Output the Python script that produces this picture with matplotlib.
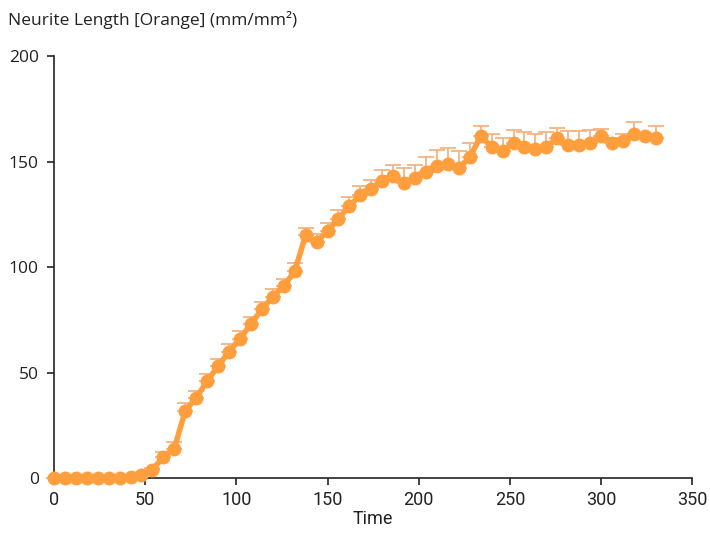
import numpy as np
import matplotlib.pyplot as plt

# time points (every 6 units)
tempo = [0, 6, 12, 18, 24, 30, 36, 42, 48, 54, 60, 66, 72, 78, 84, 90, 96, 102,
         108, 114, 120, 126, 132, 138, 144, 150, 156, 162, 168, 174, 180, 186,
         192, 198, 204, 210, 216, 222, 228, 234, 240, 246, 252, 258, 264, 270,
         276, 282, 288, 294, 300, 306, 312, 318, 324, 330]

comprimento = [0, 0, 0, 0, 0, 0, 0, 0.5, 1.5, 4, 10, 14, 32, 38, 46, 53, 60, 66,
               73, 80, 86, 91, 98, 115, 112, 117, 123, 129, 134, 137, 141, 143,
               140, 142, 145, 148, 149, 147, 152, 162, 157, 155, 159, 157, 156, 157,
               161, 158, 158, 159, 162, 159, 160, 163, 162, 161]

erro = [0.2, 0.2, 0.2, 0.2, 0.2, 0.2, 0.2, 0.3, 0.5, 1, 2.5, 3, 3.5, 3.5, 3.5, 3.5, 3.5, 3.5,
        3.5, 3.5, 3.5, 3.5, 4, 3.5, 3.5, 4, 4, 4, 4.5, 4.5, 5, 5.5,
        7, 6.5, 7, 7.5, 7.5, 8, 7, 5, 6, 6, 6, 7, 7, 7,
        5, 6.5, 6.5, 6, 3.5, 2, 3, 6, 1, 6]

xticks = [0, 50, 100, 150, 200, 250, 300, 350]
yticks = [0, 50, 100, 150, 200]

laranja = '#FF9E3D'
laranja_claro = '#F6B380'

fig = plt.figure(figsize=(7.1, 5.36), dpi=100)
ax = fig.add_axes([0.076, 0.108, 0.899, 0.7873])

ax.errorbar(tempo, comprimento, yerr=[np.zeros(len(erro)), erro], fmt='none',
            ecolor=laranja_claro, elinewidth=1.3, capsize=5.5, capthick=1.3,
            clip_on=False, zorder=2)
ax.plot(tempo, comprimento, color=laranja, linewidth=4, marker='o',
        markersize=9, clip_on=False, zorder=3)

ax.set_xlim(0, 350)
ax.set_ylim(0, 200)
ax.set_xticks(xticks)
ax.set_yticks(yticks)

for lado in ['top', 'right']:
    ax.spines[lado].set_visible(False)
for lado in ['left', 'bottom']:
    ax.spines[lado].set_linewidth(1.2)
    ax.spines[lado].set_color('#222222')

ax.tick_params(axis='both', direction='out', length=5, width=1.2,
               color='#222222', labelcolor='#222222')
ax.tick_params(axis='y', labelsize=12.5, pad=6)
ax.tick_params(axis='x', labelsize=13, pad=4)
for t in ax.get_xticklabels():
    t.set_family(['Roboto', 'DejaVu Sans'])
for t in ax.get_yticklabels():
    t.set_family(['Open Sans', 'DejaVu Sans'])

ax.set_xlabel('Time', fontsize=13, family=['Roboto', 'DejaVu Sans'],
              color='#222222', labelpad=1)
fig.text(0.011, 0.962, 'Neurite Length [Orange] (mm/mm²)', fontsize=12.5,
         family=['Open Sans', 'DejaVu Sans'], color='#222222', va='center')

plt.savefig('out.png', dpi=100)
